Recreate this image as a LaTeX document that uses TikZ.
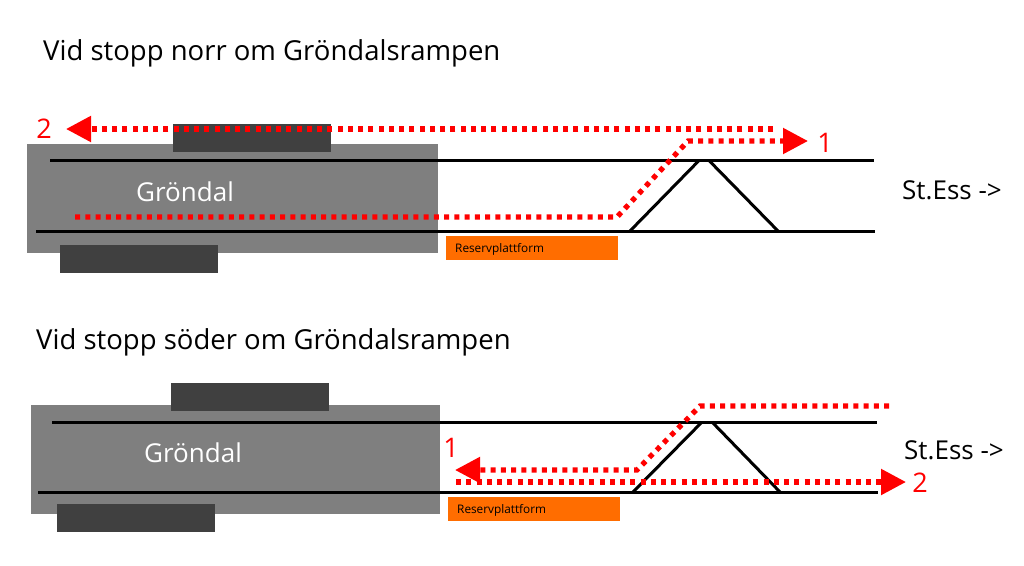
\documentclass[tikz,border=0pt]{standalone}
\usepackage{fontspec}
\setmainfont{Open Sans}
\usetikzlibrary{arrows.meta}
\definecolor{hall}{HTML}{7F7F7F}
\definecolor{platform}{HTML}{404040}
\definecolor{reserve}{HTML}{FF6D00}

\begin{document}
\begin{tikzpicture}[x=1pt, y=-1pt, line cap=butt,
		hall node/.style={rectangle,fill=hall,inner sep=0pt,minimum width=411pt,minimum height=109pt},
		platform node/.style={rectangle,fill=platform,inner sep=0pt,minimum width=158pt,minimum height=28pt},
		reserve node/.style={rectangle,fill=reserve,inner sep=0pt,minimum width=172pt,minimum height=24pt},
		small node/.style={anchor=west,inner sep=0pt,font=\fontsize{11.8}{14}\selectfont},
		title node/.style={anchor=west,inner sep=0pt,font=\fontsize{27.5}{32}\selectfont},
		big node/.style={inner sep=0pt,font=\fontsize{26}{30}\selectfont},
		num node/.style={inner sep=0pt,red,font=\fontsize{27}{31}\selectfont},
		track/.style={draw=black,line width=3pt},
		route/.style={draw=red,line width=5.2pt,dash pattern=on 5pt off 5.25pt},
		head/.style={-{Triangle[length=25pt,width=25pt]}}]
		\useasboundingbox (0,0) rectangle (1024,565);
		
		% upper picture
		\node[title node] (title1) at (43,53.5) {Vid stopp norr om Gröndalsrampen};
		\node[hall node] (hall1) at (232.5,198.5) {};
		\node[platform node] (north1) at (252,138) {};
		\node[platform node] (south1) at (139,259) {};
		\node[reserve node] (res1) at (532,248) {};
		\node[small node] (reslabel1) at (455,249.5) {Reservplattform};
		\node[big node,white] (name1) at (185,192) {Gröndal};
		\node[big node] (ess1) at (952,190) {St.Ess ->};
		\node[num node] (num1a) at (825,143) {1};
		\node[num node] (num1b) at (44,129) {2};
		
		\coordinate (a1) at (50,160.5);
		\coordinate (a2) at (874,160.5);
		\coordinate (b1) at (36,231);
		\coordinate (b2) at (875,231);
		\coordinate (c1) at (630,231);
		\coordinate (c2) at (699,160.5);
		\coordinate (c3) at (709,160.5);
		\coordinate (c4) at (778,231);
		\coordinate (r1) at (75,217);
		\coordinate (r2) at (617,217);
		\coordinate (r3) at (688,141);
		\coordinate (r4) at (808,141);
		\coordinate (r5) at (773,129);
		\coordinate (r6) at (66,129);
		
		\path[track] (a1) -- (a2);
		\path[track] (b1) -- (b2);
		\path[track] (c1) -- (c2);
		\path[track] (c3) -- (c4);
		\path[route,head] (r1) -- (r2) -- (r3) -- (r4);
		\path[route,head] (r5) -- (r6);
		
		% lower picture
		\node[title node] (title2) at (36,342) {Vid stopp söder om Gröndalsrampen};
		\node[hall node,minimum width=409pt] (hall2) at (235.5,459.5) {};
		\node[platform node] (north2) at (250,397) {};
		\node[platform node] (south2) at (136,518) {};
		\node[reserve node] (res2) at (534,509) {};
		\node[small node] (reslabel2) at (457,510.5) {Reservplattform};
		\node[big node,white] (name2) at (193,453) {Gröndal};
		\node[big node] (ess2) at (954,450) {St.Ess ->};
		\node[num node] (num2a) at (451,448) {1};
		\node[num node] (num2b) at (920,483) {2};
		
		\coordinate (d1) at (52,422);
		\coordinate (d2) at (877,422);
		\coordinate (e1) at (38,492);
		\coordinate (e2) at (878,492);
		\coordinate (f1) at (633,492);
		\coordinate (f2) at (702,422);
		\coordinate (f3) at (712,422);
		\coordinate (f4) at (780,492);
		\coordinate (s1) at (889,406);
		\coordinate (s2) at (700,406);
		\coordinate (s3) at (637,470);
		\coordinate (s4) at (455,470);
		\coordinate (s5) at (456,482);
		\coordinate (s6) at (906,482);
		
		\path[track] (d1) -- (d2);
		\path[track] (e1) -- (e2);
		\path[track] (f1) -- (f2);
		\path[track] (f3) -- (f4);
		\path[route,head] (s1) -- (s2) -- (s3) -- (s4);
		\path[route,head] (s5) -- (s6);
\end{tikzpicture}
\end{document}
